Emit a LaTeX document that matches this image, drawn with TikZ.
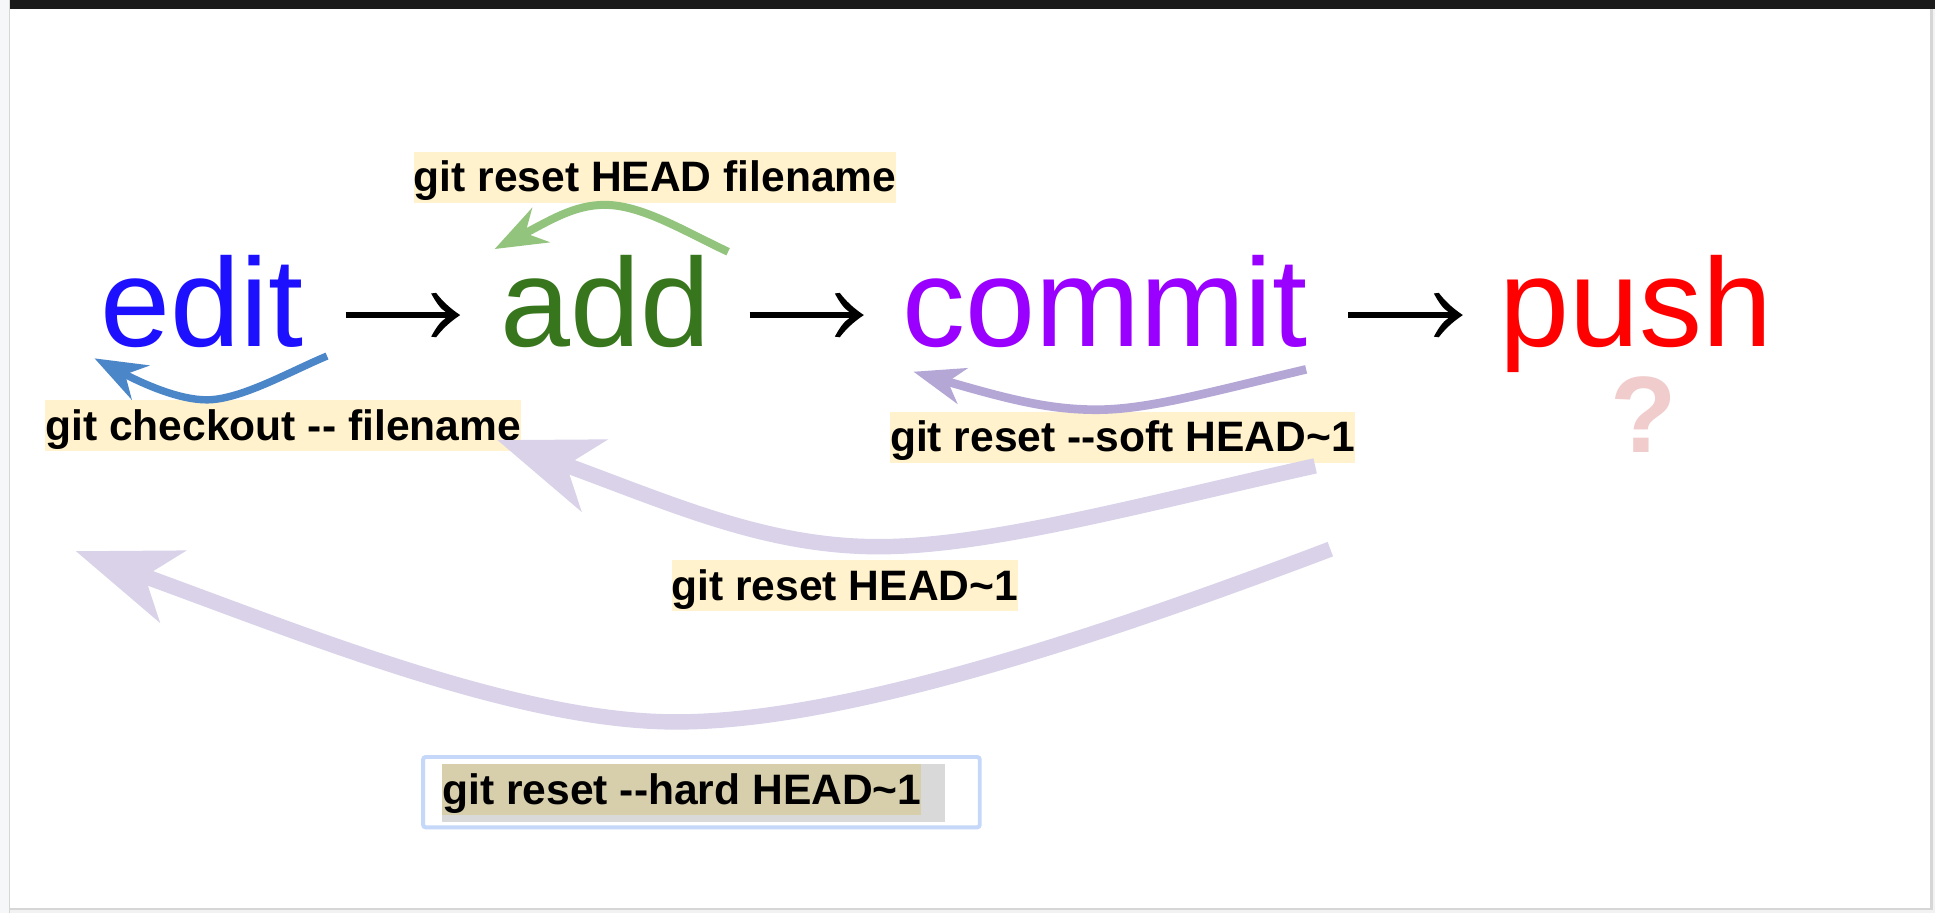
\documentclass[tikz,border=0pt]{standalone}
\usepackage{fontspec}
\setmainfont{Liberation Sans}[Ligatures=TeXOff]
\usetikzlibrary{arrows.meta}
\definecolor{cedit}{HTML}{1C10FF}
\definecolor{cadd}{HTML}{38761D}
\definecolor{ccommit}{HTML}{9900FF}
\definecolor{cpush}{HTML}{FF0000}
\definecolor{cq}{HTML}{F0CCCC}
\definecolor{cgreen}{HTML}{93C47D}
\definecolor{cblue}{HTML}{4A86C8}
\definecolor{csoft}{HTML}{B4A7D6}
\definecolor{clight}{HTML}{D9D2E9}
\definecolor{lblbg}{HTML}{FFF2CC}
\definecolor{hardbg}{HTML}{D7CEAB}
\definecolor{graybg}{HTML}{D9D9D9}
\definecolor{hardborder}{HTML}{C6D8FA}
\definecolor{topbar}{HTML}{1B1B1B}
\definecolor{stripc}{HTML}{F6F7F8}
\definecolor{framec}{HTML}{D6D6D6}
\definecolor{outerc}{HTML}{F2F2F2}
\pgfdeclarearrow{
  name = GlyphArrow,
  setup code = {
    \pgfarrowssettipend{0pt}
    \pgfarrowssetlineend{-10pt}
    \pgfarrowssetbackend{-24pt}
    \pgfarrowshullpoint{0pt}{0pt}
    \pgfarrowshullpoint{-24pt}{18pt}
    \pgfarrowshullpoint{-24pt}{-18pt}
  },
  drawing code = {
    \pgfpathmoveto{\pgfqpoint{0pt}{0pt}}
    \pgfpathcurveto{\pgfqpoint{-9pt}{6pt}}{\pgfqpoint{-15pt}{12pt}}{\pgfqpoint{-19.5pt}{18pt}}
    \pgfpathlineto{\pgfqpoint{-23.5pt}{17.5pt}}
    \pgfpathcurveto{\pgfqpoint{-20pt}{11pt}}{\pgfqpoint{-16pt}{5pt}}{\pgfqpoint{-12pt}{2.7pt}}
    \pgfpathlineto{\pgfqpoint{-12pt}{-2.7pt}}
    \pgfpathcurveto{\pgfqpoint{-16pt}{-5pt}}{\pgfqpoint{-20pt}{-11pt}}{\pgfqpoint{-23.5pt}{-17.5pt}}
    \pgfpathlineto{\pgfqpoint{-19.5pt}{-18pt}}
    \pgfpathcurveto{\pgfqpoint{-15pt}{-12pt}}{\pgfqpoint{-9pt}{-6pt}}{\pgfqpoint{0pt}{0pt}}
    \pgfpathclose
    \pgfusepathqfill
  }
}
\begin{document}
\begin{tikzpicture}[x=1pt,y=-1pt,
  word/.style={anchor=base west, inner sep=0pt, font=\fontsize{102}{110}\selectfont},
  lbl/.style={anchor=base west, inner sep=0pt, fill=lblbg, text=black,
    text height=32.4pt, text depth=8.9pt, font=\fontsize{34.5}{40}\selectfont\bfseries},
  flow/.style={line width=5.2pt, -{GlyphArrow}},
  smallhead/.style={-{Stealth[length=42pt,width=31pt,inset=14pt]}},
  softhead/.style={-{Stealth[length=41pt,width=29.6pt,inset=12pt]}},
  bighead/.style={-{Stealth[length=83pt,width=61pt,inset=23.5pt]}},
]
\useasboundingbox (0,0) rectangle (1568,739.8);
% page frame
\fill[white] (0,0) rectangle (1568,739.8);
\fill[stripc] (0,0) rectangle (8,739.8);
\fill[framec] (7.4,0) rectangle (8.4,739.8);
\fill[outerc] (1566,0) rectangle (1568,739.8);
\fill[outerc] (8,737.2) rectangle (1568,739.8);
\fill[framec] (1564,7.6) rectangle (1566,737.2);
\fill[framec] (8.4,735.6) rectangle (1566,737.2);
\fill[topbar] (8.4,0) rectangle (1568,7.6);

% main words
\node[word, text=cedit] (edit) at (81.2,281) {edit};
\node[word, text=cadd] (add) at (405,281) {add};
\node[word, text=ccommit] (commit) at (731,281) {commit};
\node[word, text=cpush] (push) at (1215,281) {push};
\node[anchor=base west, inner sep=0pt, text=cq, font=\fontsize{88}{90}\selectfont\bfseries] (q) at (1304.5,367) {?};

\draw[flow] ([xshift=34pt,yshift=25.7pt]edit.base east) -- ([xshift=-32.1pt,yshift=25.7pt]add.base west);
\draw[flow] ([xshift=31.9pt,yshift=25.7pt]add.base east) -- ([xshift=-31pt,yshift=25.7pt]commit.base west);
\draw[flow] ([xshift=32.4pt,yshift=25.7pt]commit.base east) -- ([xshift=-29.6pt,yshift=25.7pt]push.base west);

% labels
\node[lbl] (lreset) at (335,155.3) {git reset HEAD filename};
\node[lbl] (lcheckout) at (36.6,356.6) {git checkout -- filename};
\node[lbl] (lsoft) at (721,366) {git reset --soft HEAD\textasciitilde 1};
\node[lbl] (lhead) at (544,486.2) {git reset HEAD\textasciitilde 1};
\fill[graybg] (358.3,619) rectangle (765.5,665.9);
\node[lbl, fill=hardbg, text height=32.8pt, text depth=8.7pt] (lhard) at (358.3,651.8) {git reset --hard HEAD\textasciitilde 1};
\draw[hardborder, line width=3.2pt, rounded corners=2pt] (342.9,613.4) rectangle (793.9,670.4);

% curved arrows
\coordinate (gS) at (590,204);   \coordinate (gT) at (400.8,201.8);
\coordinate (bS) at (265,288.5); \coordinate (bT) at (76.6,290.4);
\coordinate (sS) at (1058.4,299.3); \coordinate (sT) at (740.2,301.2);
\coordinate (hS) at (1065.7,377.5); \coordinate (hT) at (403,356.6);
\coordinate (dS) at (1078,445); \coordinate (dT) at (61.4,446.6);

\draw[cgreen, line width=6.5pt, smallhead] (gS) .. controls (553.8,187) and (520,166) .. (490,166) .. controls (465,166) and (445.2,178.9) .. (gT);
\draw[cblue, line width=6pt, smallhead] (bS) .. controls (235,301) and (195,324) .. (167.5,324) .. controls (145,324) and (116.5,311.3) .. (bT);
\draw[csoft, line width=7pt, softhead] (sS) .. controls (980.6,317.7) and (930,332) .. (888.7,332) .. controls (850,332) and (817,323.5) .. (sT);
\draw[clight, line width=12.5pt, bighead] (hS) .. controls (920,410) and (800,443) .. (712,443) .. controls (620,443) and (544,408) .. (hT);
\draw[clight, line width=12.5pt, bighead] (dS) .. controls (880,520) and (680,585) .. (548,585) .. controls (420,585) and (249,515) .. (dT);
\end{tikzpicture}
\end{document}
